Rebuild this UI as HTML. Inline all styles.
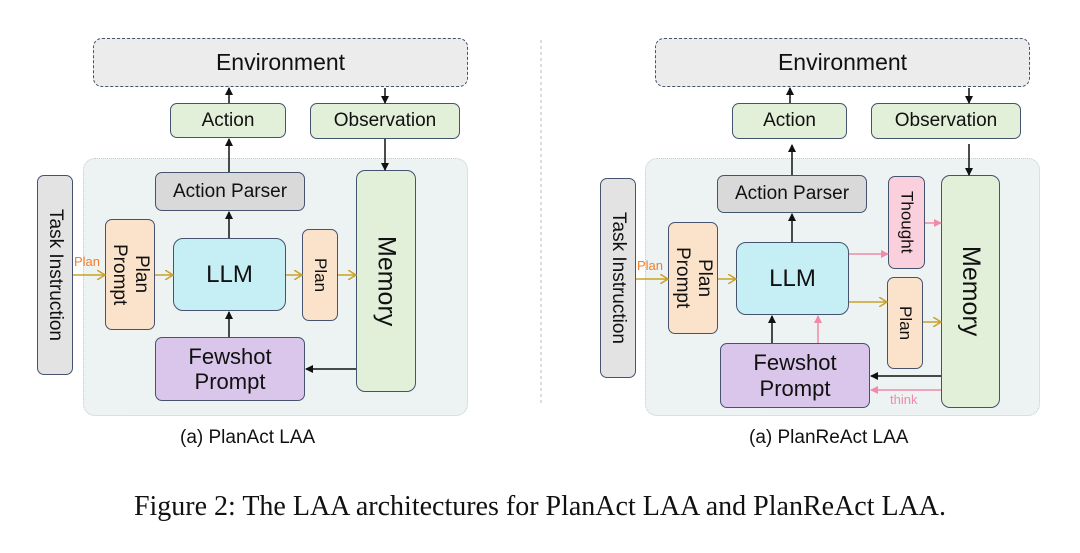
<!DOCTYPE html>
<html><head><meta charset="utf-8"><style>
body{margin:0;width:1080px;height:553px;background:#fff;position:relative;overflow:hidden;font-family:"Liberation Sans",sans-serif;color:#111}
.b{position:absolute;box-sizing:border-box;border:1.6px solid #45536e;border-radius:7px;display:flex;align-items:center;justify-content:center;text-align:center;line-height:1.15}
.v{writing-mode:vertical-rl}
.env{background:#ececec;border-style:dashed;border-radius:9px;font-size:23px}
.g{background:#e2efd9;font-size:19px}
.ap{background:#d9d9d9;font-size:19px}
.llm{background:#c6eef5;font-size:24px;border-radius:10px}
.or{background:#fbe3cb;font-size:19px}
.pu{background:#d9c6ea;font-size:22px}
.pk{background:#f9d0db;font-size:17px}
.ti{background:#e3e3e3;font-size:19px}
.mem{background:#e2efd9;font-size:25px;border-radius:9px}
.ct{position:absolute;box-sizing:border-box;background:#edf2f2;border:1.2px dotted #c8cccc;border-radius:12px}
.cap{position:absolute;font-size:19px}
svg{position:absolute;left:0;top:0}
</style></head><body>
<div class="ct" style="left:83px;top:158px;width:385px;height:258px"></div>
<div class="ct" style="left:645px;top:158px;width:395px;height:258px"></div>

<div class="b env" style="left:93px;top:38px;width:375px;height:49px">Environment</div>
<div class="b g" style="left:170px;top:103px;width:116px;height:35px">Action</div>
<div class="b g" style="left:310px;top:103px;width:150px;height:36px">Observation</div>
<div class="b ap" style="left:155px;top:172px;width:150px;height:39px">Action Parser</div>
<div class="b ti v" style="left:37px;top:175px;width:36px;height:200px">Task Instruction</div>
<div class="b or v" style="left:105px;top:219px;width:50px;height:111px">Plan<br>Prompt</div>
<div class="b llm" style="left:173px;top:238px;width:113px;height:73px">LLM</div>
<div class="b or v" style="left:302px;top:229px;width:36px;height:92px;font-size:17px">Plan</div>
<div class="b mem v" style="left:356px;top:170px;width:60px;height:222px">Memory</div>
<div class="b pu" style="left:155px;top:337px;width:150px;height:64px">Fewshot<br>Prompt</div>

<div class="b env" style="left:655px;top:38px;width:375px;height:49px">Environment</div>
<div class="b g" style="left:732px;top:103px;width:115px;height:36px">Action</div>
<div class="b g" style="left:871px;top:103px;width:150px;height:36px">Observation</div>
<div class="b ap" style="left:717px;top:175px;width:150px;height:38px">Action Parser</div>
<div class="b ti v" style="left:600px;top:178px;width:36px;height:200px">Task Instruction</div>
<div class="b or v" style="left:668px;top:222px;width:50px;height:112px">Plan<br>Prompt</div>
<div class="b llm" style="left:736px;top:242px;width:113px;height:73px">LLM</div>
<div class="b pk v" style="left:888px;top:176px;width:37px;height:93px">Thought</div>
<div class="b or v" style="left:887px;top:277px;width:36px;height:92px;font-size:17px">Plan</div>
<div class="b mem v" style="left:941px;top:175px;width:59px;height:233px">Memory</div>
<div class="b pu" style="left:720px;top:343px;width:150px;height:65px">Fewshot<br>Prompt</div>

<svg width="1080" height="553">
<defs>
<marker id="k" markerWidth="8" markerHeight="8" refX="7" refY="4" orient="auto" markerUnits="userSpaceOnUse"><path d="M0,0L8,4L0,8z" fill="#111"/></marker>
<marker id="p" markerWidth="8" markerHeight="8" refX="7" refY="4" orient="auto" markerUnits="userSpaceOnUse"><path d="M0,0L8,4L0,8z" fill="#f08aa6"/></marker>
<marker id="o" markerWidth="9" markerHeight="10" refX="8" refY="5" orient="auto" markerUnits="userSpaceOnUse"><path d="M0,0L8,5L0,10" fill="none" stroke="#c9a227" stroke-width="1.5"/></marker>
</defs>
<g stroke="#111" stroke-width="1.5" fill="none" marker-end="url(#k)">
<path d="M229 103V88"/><path d="M229 172V139"/><path d="M385 88V103"/><path d="M385 139V170"/>
<path d="M229 238V212"/><path d="M229 337V312"/><path d="M356 369H306"/>
<path d="M790 103V88"/><path d="M792 175V145"/><path d="M969 88V103"/><path d="M969 144V175"/>
<path d="M792 242V214"/><path d="M772 343V316"/><path d="M941 376H871"/>
</g>
<g stroke="#f08aa6" stroke-width="1.5" fill="none" marker-end="url(#p)">
<path d="M818 343V316"/><path d="M849 254H888"/><path d="M925 223H941"/><path d="M941 390H871"/>
</g>
<g stroke="#c9a227" stroke-width="1.5" fill="none" marker-end="url(#o)">
<path d="M73 275H105"/><path d="M155 275H173"/><path d="M286 275H302"/><path d="M338 275H356"/>
<path d="M636 279H668"/><path d="M718 279H736"/><path d="M849 302H887"/><path d="M923 322H941"/>
</g>
<line x1="541" y1="40" x2="541" y2="405" stroke="#bbb" stroke-dasharray="3,3"/>
<text x="74" y="266" font-size="13" fill="#f07f2a" font-family="Liberation Sans">Plan</text>
<text x="637" y="270" font-size="13" fill="#f07f2a" font-family="Liberation Sans">Plan</text>
<text x="890" y="404" font-size="13" fill="#f08aa6" font-family="Liberation Sans">think</text>
</svg>

<div class="cap" style="left:180px;top:427px">(a) PlanAct LAA</div>
<div class="cap" style="left:749px;top:427px">(a) PlanReAct LAA</div>
<div class="cap" style="left:0;width:1080px;text-align:center;top:491px;font-family:'Liberation Serif',serif;font-size:28px">Figure 2: The LAA architectures for PlanAct LAA and PlanReAct LAA.</div>
</body></html>
